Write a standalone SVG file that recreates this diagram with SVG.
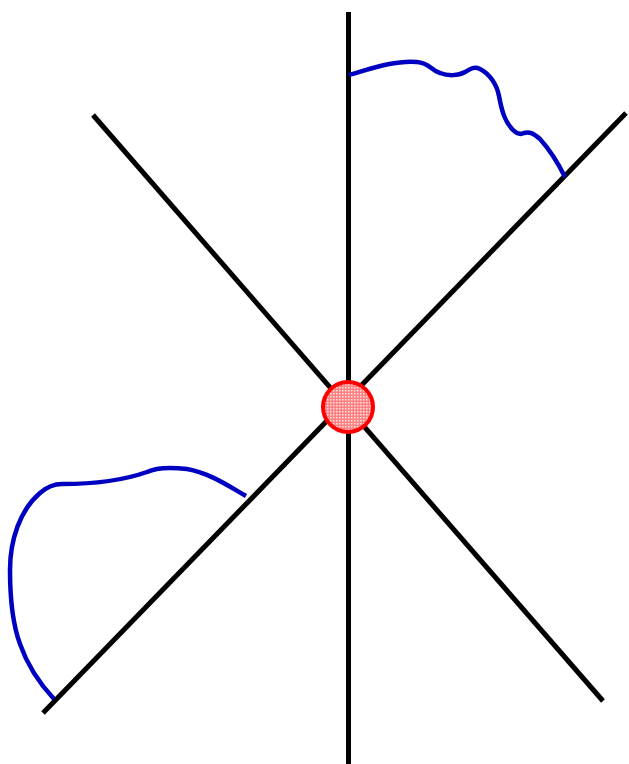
<svg xmlns="http://www.w3.org/2000/svg" width="629" height="764" viewBox="0 0 629 764">
<style>
.axis{stroke:#000;stroke-width:5;fill:none}
.arc{stroke:#0000c0;stroke-width:4.5;fill:none;stroke-linecap:butt;stroke-linejoin:round}
</style>
<defs>
<pattern id="dots" x="0" y="0" width="3" height="3" patternUnits="userSpaceOnUse">
<rect x="0" y="0" width="1.5" height="1.5" fill="#ffffff" fill-opacity="0.8"/>
</pattern>
</defs>
<rect width="629" height="764" fill="#fff"/>
<g id="connectors">
<line class="axis" x1="348.5" y1="12" x2="348.5" y2="764"/>
<line class="axis" x1="93" y1="115" x2="603" y2="701"/>
<line class="axis" x1="43" y1="713" x2="626" y2="113"/>
<path class="arc" d="M349,75 C370,69 395,60 417,62 C430,63 430,70 440,73 C448,76 458,76 465,72 C470,69 474,66 480,69 C490,74 497,85 499,96 C502,112 505,122 513,130 C517,134 520,135 524,133 C530,131 534,134 540,139 C550,150 558,163 565,177"/>
<path class="arc" d="M246,496 C230,487 210,473 187,469 C170,467 155,468 147,472 C130,478 100,484 62,484 C55,484 48,486 40,493 C20,510 10,540 10,570 C10,600 13,625 20,644 C28,667 40,684 54,699"/>
</g>
<g id="node-center">
<circle cx="348" cy="407" r="25" fill="#ff8080"/>
<circle cx="348" cy="407" r="25" fill="url(#dots)" stroke="#ff0000" stroke-width="4"/>
</g>
</svg>
